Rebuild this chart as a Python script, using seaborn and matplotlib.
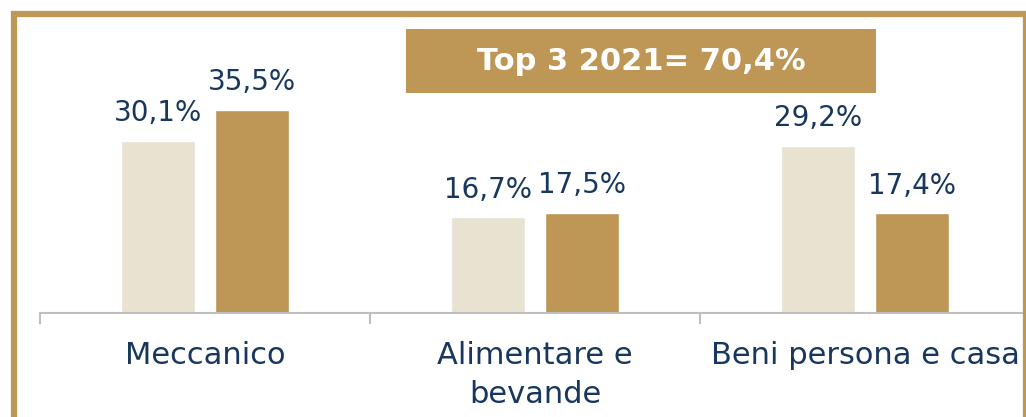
import pandas as pd
import matplotlib
matplotlib.use("Agg")
import matplotlib.pyplot as plt
import seaborn as sns
from matplotlib.patches import Rectangle

# dati
settori = ["Meccanico", "Alimentare e\nbevande", "Beni persona e casa"]
quota_prec = [30.1, 16.7, 29.2]
quota_2021 = [35.5, 17.5, 17.4]
anni = ["Precedente", "2021"]
titolo = "Top 3 2021= 70,4%"

oro = "#BE9655"
beige = "#E8E2D1"
blu = "#17375E"

df = pd.DataFrame({
    "settore": settori * 2,
    "anno": [anni[0]] * 3 + [anni[1]] * 3,
    "quota": quota_prec + quota_2021,
})

sns.set_theme(style="white")
plt.rcParams["font.family"] = ["DejaVu Sans"]

fig = plt.figure(figsize=(10.26, 4.17), dpi=100)
ax = fig.add_axes([40 / 1026, 104 / 417, 990 / 1026, 286 / 417])

sns.barplot(data=df, x="settore", y="quota", hue="anno", hue_order=anni,
            palette=[beige, oro], width=0.57, gap=0.21, dodge=True,
            legend=False, ax=ax, saturation=1)

# etichette valori
for cont in ax.containers:
    ax.bar_label(cont, labels=[f"{v:.1f}%".replace(".", ",") for v in cont.datavalues],
                 padding=10, fontsize=20, color=blu)

ax.set_xlim(-0.5, 2.5)
ax.set_ylim(0, 50)
ax.set_yticks([])
ax.set_xlabel("")
ax.set_ylabel("")
for s in ["left", "top", "right"]:
    ax.spines[s].set_visible(False)
ax.spines["bottom"].set_color("#BFBFBF")
ax.spines["bottom"].set_linewidth(1.5)

ax.set_xticks(range(3), labels=settori, linespacing=1.45)
ax.tick_params(axis="x", which="major", length=0, pad=20, labelsize=22, labelcolor=blu)
ax.set_xticks([-0.5, 0.5, 1.5], minor=True)
ax.tick_params(axis="x", which="minor", bottom=True, length=8, width=1.5, color="#BFBFBF", direction="out")

# riquadro titolo
fig.patches.append(Rectangle((406 / 1026, 324 / 417), 470 / 1026, 64 / 417,
                             transform=fig.transFigure, facecolor=oro, edgecolor="none", zorder=5))
fig.text(641 / 1026, 356 / 417, titolo, ha="center", va="center", color="white",
         fontsize=22, fontweight="bold", zorder=6)

# cornice
fig.patches.append(Rectangle((13.5 / 1026, -1.5 / 417), 1012 / 1026, 405 / 417,
                             transform=fig.transFigure, facecolor="none", edgecolor=oro,
                             linewidth=4.5, zorder=10))

fig.savefig("out.png", dpi=100)
